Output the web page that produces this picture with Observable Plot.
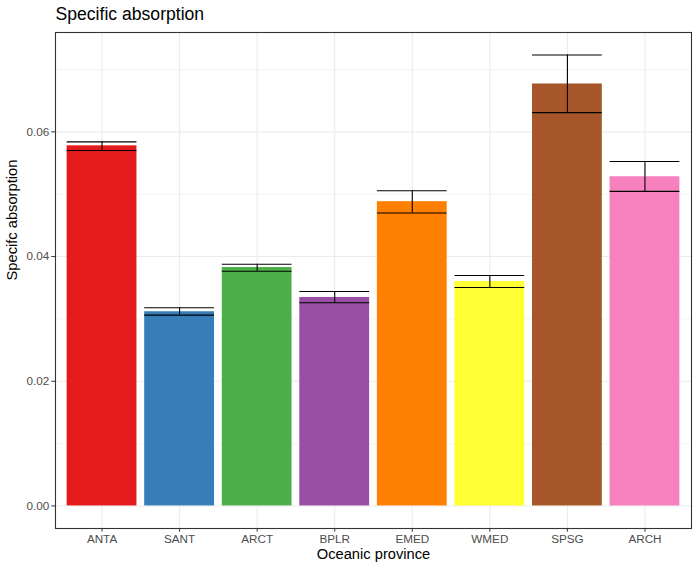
<!DOCTYPE html>
<html>
<head>
<meta charset="utf-8">
<script src="https://cdn.jsdelivr.net/npm/d3@7"></script>
<script src="https://cdn.jsdelivr.net/npm/@observablehq/plot@0.6"></script>
<style>
  body { margin: 0; background: #fff; }
  svg { font-family: "Liberation Sans", Arial, sans-serif; }
</style>
</head>
<body>
<div id="chart"></div>
<script>
const provinces = ["ANTA", "SANT", "ARCT", "BPLR", "EMED", "WMED", "SPSG", "ARCH"];
const means = [0.05776, 0.03115, 0.03824, 0.03344, 0.0488, 0.0360, 0.06768, 0.0528];
const errLow = [0.0570, 0.03061, 0.03765, 0.03259, 0.04699, 0.03504, 0.06309, 0.05045];
const errHigh = [0.0584, 0.03179, 0.03877, 0.0344, 0.05056, 0.03696, 0.07232, 0.05525];
const colors = ["#E41A1C", "#377EB8", "#4DAF4A", "#984EA3", "#FF7F00", "#FFFF33", "#A65628", "#F781BF"];
const majorTicks = [0, 0.02, 0.04, 0.06];
const minorTicks = [0.01, 0.03, 0.05, 0.07];

const data = provinces.map((p, i) => ({p, mean: means[i], lo: errLow[i], hi: errHigh[i]}));
const ymax = d3.max(errHigh);
const pad = ymax * 0.05;

const chart = Plot.plot({
  width: 699,
  height: 569,
  marginLeft: 55,
  marginRight: 8,
  marginTop: 32,
  marginBottom: 41,
  style: {fontFamily: "'Liberation Sans', Arial, sans-serif", background: "#fff"},
  x: {type: "band", domain: provinces, paddingInner: 0.1, paddingOuter: 0.15, round: false, label: null},
  y: {domain: [-pad, ymax + pad], label: null},
  color: {domain: provinces, range: colors},
  marks: [
    Plot.gridY(minorTicks, {stroke: "#ebebeb", strokeOpacity: 1, strokeWidth: 0.55}),
    Plot.gridY(majorTicks, {stroke: "#ebebeb", strokeOpacity: 1, strokeWidth: 1.1}),
    Plot.gridX(provinces, {stroke: "#ebebeb", strokeOpacity: 1, strokeWidth: 1.1}),
    Plot.barY(data, {x: "p", y1: 0, y2: "mean", fill: "p"}),
    Plot.ruleX(data, {x: "p", y1: "lo", y2: "hi", stroke: "#000", strokeWidth: 1.1}),
    Plot.tickY(data, {x: "p", y: "lo", stroke: "#000", strokeWidth: 1.1}),
    Plot.tickY(data, {x: "p", y: "hi", stroke: "#000", strokeWidth: 1.1}),
    Plot.frame({stroke: "#333333", strokeWidth: 1.1}),
    Plot.axisY(majorTicks, {tickFormat: d3.format(".2f"), tickSize: 3.7, tickPadding: 2.5, fontSize: 11.7, fill: "#4d4d4d", stroke: "#333333", label: null}),
    Plot.axisX({tickSize: 3.7, tickPadding: 2.5, fontSize: 11.7, fill: "#4d4d4d", stroke: "#333333", label: null}),
    Plot.text(["Oceanic province"], {frameAnchor: "bottom", dy: 26, fontSize: 14.7, fill: "#000", lineAnchor: "middle"}),
    Plot.text(["Specifc absorption"], {frameAnchor: "left", dx: -43, rotate: -90, fontSize: 14.7, fill: "#000", lineAnchor: "middle"}),
    Plot.text(["Specific absorption"], {frameAnchor: "top-left", dy: -18, textAnchor: "start", fontSize: 17.6, fill: "#000", lineAnchor: "middle"})
  ]
});
document.getElementById("chart").appendChild(chart);
</script>
</body>
</html>
